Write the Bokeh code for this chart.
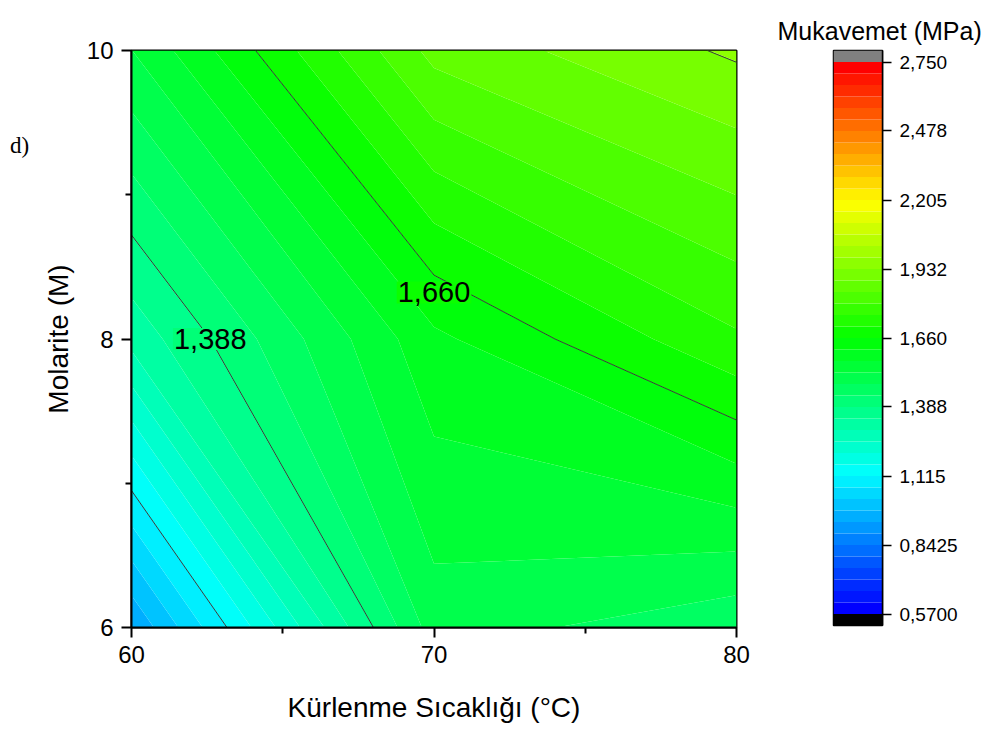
import numpy as np
from bokeh.plotting import figure
from bokeh.layouts import row
from bokeh.models import FixedTicker, Range1d
from bokeh.embed import file_html
from bokeh.resources import INLINE
from bokeh.core.properties import value

# ---- data ----
temps = [60, 70, 80]                      # Kürlenme Sıcaklığı (°C)
molarity = [6, 8, 10]                     # Molarite (M)
strength_m6 = [0.937, 1.501, 1.445]       # Mukavemet at 6 M
strength_m8 = [1.312, 1.604, 1.744]       # at 8 M
strength_m10 = [1.523, 1.857, 1.940]      # at 10 M

cbar_min = 0.57
cbar_max = 2.75
n_bands = 48
major_levels = [0.57, 0.8425, 1.115, 1.388, 1.660, 1.932, 2.205, 2.478, 2.750]
major_labels = ["0,5700", "0,8425", "1,115", "1,388", "1,660", "1,932", "2,205", "2,478", "2,750"]
line_levels = [1.115, 1.388, 1.660, 1.932]
label_levels = [1.388, 1.660]
label_texts = ["1,388", "1,660"]

x_ticks = [60, 70, 80]
x_minor = [65, 75]
y_ticks = [6, 8, 10]
y_minor = [7, 9]

FONT = "Liberation Sans"

Z = np.array([strength_m6, strength_m8, strength_m10])
levels = np.linspace(cbar_min, cbar_max, n_bands + 1)
step = levels[1] - levels[0]


def rainbow(t):
    stops = [(0.0, (0, 0, 255)), (0.25, (0, 255, 255)), (0.5, (0, 255, 0)),
             (0.75, (255, 255, 0)), (1.0, (255, 0, 0))]
    for (t0, c0), (t1, c1) in zip(stops[:-1], stops[1:]):
        if t <= t1:
            f = (t - t0) / (t1 - t0)
            c = [round(a + (b - a) * f) for a, b in zip(c0, c1)]
            return "#%02x%02x%02x" % tuple(c)
    return "#ff0000"


palette = [rainbow(i / (n_bands - 1)) for i in range(n_bands)]


def band_color(v):
    i = int(np.clip((v - cbar_min) // step, 0, n_bands - 1))
    return palette[i]


# ---- small panel holding the "d)" tag ----
tag_w = 30
tag = figure(title=None, frame_width=tag_w, frame_height=736, x_range=Range1d(0, tag_w),
             y_range=Range1d(0, 736), output_backend="svg", toolbar_location=None,
             x_axis_location=None, y_axis_location=None, min_border=0,
             outline_line_color=None)
tag.grid.visible = False
tag.text(x=[19], y=[736 - 146 + 51], text=["d)"], text_font=value("Liberation Serif"),
         text_font_size="23px", text_align="center", text_baseline="middle",
         text_color="black")

# ---- main contour plot ----
p = figure(frame_width=605, frame_height=577,
           x_range=Range1d(60, 80), y_range=Range1d(6, 10),
           output_backend="svg", toolbar_location=None,
           min_border_left=131 - tag_w, min_border_top=48, min_border_bottom=111,
           min_border_right=24, background_fill_color="white",
           border_fill_color="white")

p.contour(x=temps, y=molarity, z=Z, levels=levels, fill_color=palette,
          line_color=None)
p.contour(x=temps, y=molarity, z=Z, levels=line_levels, fill_color=None,
          line_color="#3a3a3a", line_width=1)

# contour labels: 1,388 on the 8 M row, 1,660 on the 70 °C column
lx, ly, lc = [], [], []
r = Z[1]
v = label_levels[0]
lx.append(temps[0] + (v - r[0]) / (r[1] - r[0]) * (temps[1] - temps[0]))
ly.append(molarity[1])
lc.append(band_color(v + 0.01))
c = Z[:, 1]
v = label_levels[1]
lx.append(temps[1])
ly.append(molarity[1] + (v - c[1]) / (c[2] - c[1]) * (molarity[2] - molarity[1]) - 0.12)
lc.append(band_color(v + 0.01))

p.text(x=lx, y=ly, text=label_texts, text_align="center", text_baseline="middle",
       text_font=value(FONT), text_font_size="29px", text_color="black",
       background_fill_color=lc, padding=1)

p.xaxis.ticker = FixedTicker(ticks=x_ticks, minor_ticks=x_minor)
p.yaxis.ticker = FixedTicker(ticks=y_ticks, minor_ticks=y_minor)
for ax in (p.xaxis, p.yaxis):
    ax.major_label_text_font = FONT
    ax.major_label_text_font_size = "24px"
    ax.major_label_text_color = "black"
    ax.axis_label_text_font = FONT
    ax.axis_label_text_font_size = "28px"
    ax.axis_label_text_font_style = "normal"
    ax.axis_label_text_color = "black"
    ax.major_tick_in = 0
    ax.major_tick_out = 10
    ax.minor_tick_in = 0
    ax.minor_tick_out = 6
    ax.axis_line_width = 2
    ax.major_tick_line_width = 2
    ax.minor_tick_line_width = 2
    ax.axis_line_color = "black"
    ax.major_tick_line_color = "black"
    ax.minor_tick_line_color = "black"
    ax.major_label_standoff = 8
p.xaxis.axis_label = "Kürlenme Sıcaklığı (°C)"
p.yaxis.axis_label = "Molarite (M)"
p.xaxis.axis_label_standoff = 26
p.yaxis.axis_label_standoff = 10
p.grid.visible = False
p.outline_line_color = "black"
p.outline_line_width = 2
p.outline_line_alpha = 1

# ---- colour bar ----
cb = figure(frame_width=49, frame_height=575,
            x_range=Range1d(0, 1), y_range=Range1d(cbar_min - step, cbar_max + step),
            output_backend="svg", toolbar_location=None,
            x_axis_location=None, y_axis_location="right",
            min_border_left=73, min_border_top=50, min_border_bottom=111,
            min_border_right=104, border_fill_color="white")
cb.quad(left=0, right=1, bottom=levels[:-1], top=levels[1:], fill_color=palette,
        line_color=None)
cb.quad(left=0, right=1, bottom=cbar_min - step, top=cbar_min, fill_color="black",
        line_color=None)
cb.quad(left=0, right=1, bottom=cbar_max, top=cbar_max + step, fill_color="#808080",
        line_color=None)
cb.grid.visible = False
cb.outline_line_color = "black"
cb.outline_line_width = 1.5
ya = cb.yaxis[0]
ya.ticker = FixedTicker(ticks=major_levels, minor_ticks=[])
ya.major_label_overrides = {lv: lb for lv, lb in zip(major_levels, major_labels)}
ya.major_label_text_font = FONT
ya.major_label_text_font_size = "19px"
ya.major_label_text_color = "black"
ya.major_tick_in = 0
ya.major_tick_out = 9
ya.major_tick_line_width = 1.5
ya.axis_line_width = 1.5
ya.minor_tick_out = 0
ya.minor_tick_in = 0
ya.major_label_standoff = 8

cb.title.text = "Mukavemet (MPa)"
cb.title.align = "left"
cb.title.offset = -56
cb.title.text_font = FONT
cb.title.text_font_size = "25px"
cb.title.text_font_style = "normal"
cb.title.text_color = "black"
cb.title.standoff = 12

layout = row(tag, p, cb)
open("out.html", "w").write(file_html(layout, INLINE))
